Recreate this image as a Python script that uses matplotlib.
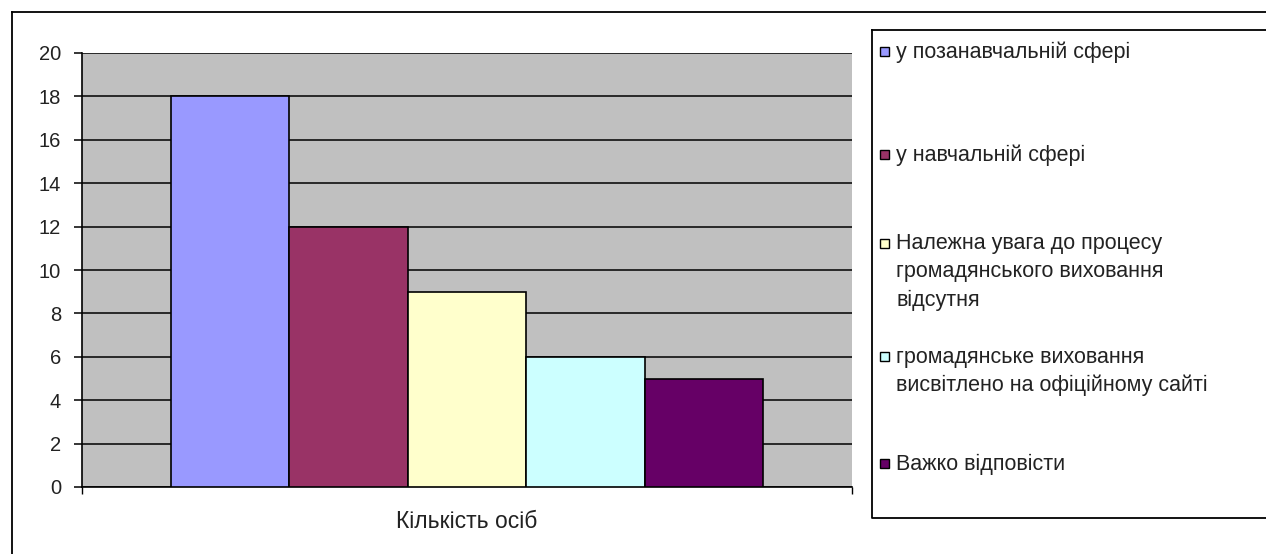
import numpy as np
import matplotlib
matplotlib.use("Agg")
import matplotlib.pyplot as plt
from matplotlib.patches import Rectangle

plt.rcParams["font.family"] = ["Liberation Sans", "DejaVu Sans"]

# ── дані ──
CATEGORY = "Кількість осіб"
LABELS = ["у позанавчальній сфері",
          "у навчальній сфері",
          "Належна увага до процесу\nгромадянського виховання\nвідсутня",
          "громадянське виховання\nвисвітлено на офіційному сайті",
          "Важко відповісти"]
VALUES = [18, 12, 9, 6, 5]
COLORS = ["#9999FF", "#993366", "#FFFFCC", "#CCFFFF", "#660066"]
YTICKS = [0, 2, 4, 6, 8, 10, 12, 14, 16, 18, 20]

W, H = 1266, 554
fig = plt.figure(figsize=(W / 100, H / 100), dpi=100)

# рамка області діаграми (у пікселях)
ov = fig.add_axes([0, 0, 1, 1])
ov.set_xlim(0, W); ov.set_ylim(H, 0); ov.axis("off")
ov.plot([12, 12], [12, H], color="black", lw=1.3)
ov.plot([12, W], [12, 12], color="black", lw=1.3)

# ── область побудови ──
L, R, T, B = 82, 852, 53, 487
ax = fig.add_axes([L / W, (H - B) / H, (R - L) / W, (B - T) / H])
ax.set_facecolor("#C0C0C0")
n = len(VALUES)
bw = 0.1538
start = (1 - n * bw) / 2
for i, (v, c) in enumerate(zip(VALUES, COLORS)):
    ax.bar(start + bw * i, v, bw, align="edge", color=c,
           edgecolor="black", linewidth=1.2, zorder=3)
ax.set_xlim(0, 1)
ax.set_ylim(0, 20)
ax.set_yticks(YTICKS)
ax.set_yticklabels([str(t) for t in YTICKS], fontsize=14.5, color="#222222")
ax.yaxis.grid(True, color="black", lw=1.1, zorder=1)
ax.set_axisbelow(True)
ax.set_xticks([0, 1])
ax.set_xticklabels([])
ax.tick_params(axis="y", length=6, width=1.1, pad=9)
ax.tick_params(axis="x", length=5, width=1.0)
for s in ["top", "right"]:
    ax.spines[s].set_visible(False)
ax.spines["left"].set_linewidth(1.2)
ax.spines["bottom"].set_linewidth(1.2)
ax.text(0.5, -0.08, CATEGORY, transform=ax.transAxes, ha="center", va="center",
        fontsize=16.5, color="#222222")

# ── легенда ──
ov2 = fig.add_axes([0, 0, 1, 1], zorder=5)
ov2.set_xlim(0, W); ov2.set_ylim(H, 0); ov2.axis("off")
ov2.patch.set_alpha(0)
lx, ltop, lbot = 872, 30, 518
ov2.plot([lx, lx, W + 5], [ltop, lbot, lbot], color="black", lw=1.3)
ov2.plot([lx, W + 5], [ltop, ltop], color="black", lw=1.3)
first_y = [52, 155, 244, 357, 464]
line_h = 28
for lab, c, y0 in zip(LABELS, COLORS, first_y):
    ov2.add_patch(Rectangle((880, y0 - 5), 9, 9, facecolor=c, edgecolor="black", lw=1.0))
    for k, line in enumerate(lab.split("\n")):
        ov2.text(896, y0 + k * line_h, line, ha="left", va="center", fontsize=15.5,
                 color="#222222")

fig.savefig("out.png", dpi=100)
